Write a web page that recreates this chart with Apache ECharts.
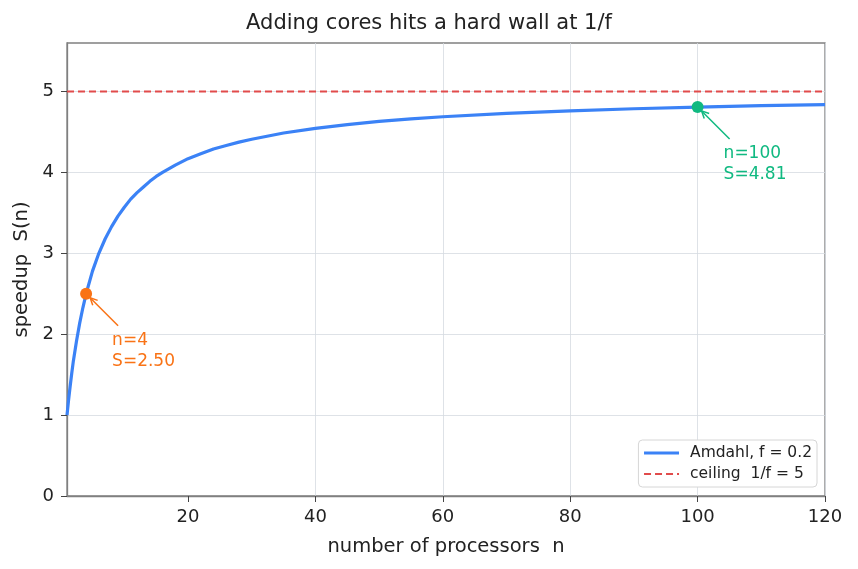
<!DOCTYPE html>
<html>
<head>
<meta charset="utf-8">
<script src="https://cdn.jsdelivr.net/npm/echarts@6/dist/echarts.min.js"></script>
<style>
  html, body { margin: 0; padding: 0; background: #fff; }
  #chart { width: 858px; height: 569px; }
</style>
</head>
<body>
<div id="chart"></div>
<script>
// values
const nValues = [1, 1.25, 1.5, 1.75, 2, 2.5, 3, 3.5, 4, 5, 6, 7, 8, 9, 10, 11, 12, 13, 14, 15, 16, 18, 20, 22, 24, 26, 28, 30, 35, 40, 45, 50, 55, 60, 70, 80, 90, 100, 110, 120];
const speedup = [1.00, 1.19, 1.36, 1.52, 1.67, 1.92, 2.14, 2.33, 2.50, 2.78, 3.00, 3.18, 3.33, 3.46, 3.57, 3.67, 3.75, 3.82, 3.89, 3.95, 4.00, 4.09, 4.17, 4.23, 4.29, 4.333, 4.375, 4.41, 4.487, 4.545, 4.592, 4.63, 4.661, 4.688, 4.73, 4.762, 4.787, 4.808, 4.825, 4.839];
const ceilingN = [1, 120];
const ceilingS = [5, 5];
const markN = [4, 100];
const markS = [2.50, 4.81];
const markColors = ["#f97316", "#10b981"];
const xTicks = [20, 40, 60, 80, 100, 120];

const FONT = "DejaVu Sans";
const BLUE = "#3b82f6";
const RED = "#e14b4b";
const chart = echarts.init(document.getElementById("chart"));

const markSeries = markN.map((n, i) => ({
  type: "scatter",
  data: [[n, markS[i]]],
  symbolSize: 12,
  itemStyle: { color: markColors[i], opacity: 1 },
  z: 5,
  label: {
    show: true,
    position: [32, 42],
    align: "left",
    verticalAlign: "top",
    color: markColors[i],
    fontFamily: FONT,
    fontSize: 17,
    lineHeight: 21,
    formatter: () => "n=" + n + "\nS=" + markS[i].toFixed(2),
  },
}));

const option = {
  animation: false,
  backgroundColor: "#fff",
  title: {
    text: "Adding cores hits a hard wall at 1/f",
    left: "center",
    top: 8,
    textStyle: { fontFamily: FONT, fontSize: 21, fontWeight: "normal", color: "#222" },
  },
  grid: {
    left: 67, right: 33, top: 43, bottom: 73,
    show: true, borderColor: "#808080", borderWidth: 1.3,
  },
  legend: {
    orient: "vertical",
    right: 41,
    bottom: 82,
    itemWidth: 35,
    itemHeight: 14,
    itemGap: 5,
    padding: [5, 5, 5, 4],
    backgroundColor: "#fff",
    borderColor: "#d6d6d6",
    borderWidth: 1,
    borderRadius: 4,
    itemStyle: { opacity: 0 },
    textStyle: { fontFamily: FONT, fontSize: 15.5, color: "#222", padding: [0, 0, 0, 6] },
    data: [
      { name: "Amdahl, f = 0.2", lineStyle: { width: 3.2, color: BLUE } },
      { name: "ceiling  1/f = 5", lineStyle: { width: 2, color: RED, type: [7, 4] } },
    ],
  },
  xAxis: {
    type: "value",
    min: 1,
    max: 120,
    minInterval: 20,
    maxInterval: 20,
    name: "number of processors  n",
    nameLocation: "middle",
    nameGap: 41,
    nameTextStyle: { fontFamily: FONT, fontSize: 19.5, color: "#222" },
    axisLine: { show: true, lineStyle: { color: "#808080", width: 1.3 } },
    axisTick: { show: true, length: 6, customValues: xTicks, lineStyle: { color: "#444" } },
    axisLabel: { customValues: xTicks, margin: 12, fontFamily: FONT, fontSize: 18, color: "#222" },
    splitLine: { show: true, showMinLine: false, lineStyle: { color: "#d5dbe1", width: 0.8 } },
  },
  yAxis: {
    type: "value",
    min: 0,
    max: 5.6,
    interval: 1,
    name: "speedup  S(n)",
    nameLocation: "middle",
    nameGap: 35,
    nameTextStyle: { fontFamily: FONT, fontSize: 19.5, color: "#222" },
    axisLine: { show: true, lineStyle: { color: "#808080", width: 1.3 } },
    axisTick: { show: true, length: 6, lineStyle: { color: "#444" } },
    axisLabel: { showMaxLabel: false, margin: 13, fontFamily: FONT, fontSize: 18, color: "#222" },
    splitLine: { show: true, showMinLine: false, showMaxLine: false, lineStyle: { color: "#d5dbe1", width: 0.8 } },
  },
  series: [
    {
      name: "Amdahl, f = 0.2",
      type: "line",
      data: nValues.map((n, i) => [n, speedup[i]]),
      symbol: "none",
      lineStyle: { color: BLUE, width: 3.2 },
      itemStyle: { color: BLUE },
      z: 3,
    },
    {
      name: "ceiling  1/f = 5",
      type: "line",
      data: ceilingN.map((n, i) => [n, ceilingS[i]]),
      symbol: "none",
      lineStyle: { color: RED, width: 2, type: [7, 4] },
      itemStyle: { color: RED },
      z: 2,
    },
    ...markSeries,
  ],
};

chart.setOption(option);

// arrows from each annotation text to its point
const arrows = markN.map((n, i) => {
  const p = chart.convertToPixel({ gridIndex: 0 }, [n, markS[i]]);
  const sx = p[0] + 32, sy = p[1] + 32;
  const ex = p[0] + 4, ey = p[1] + 4;
  const ang = Math.atan2(sy - ey, sx - ex);
  const head = 8, spread = 0.45;
  return {
    type: "group",
    z: 10,
    children: [
      { type: "line", shape: { x1: sx, y1: sy, x2: ex, y2: ey }, style: { stroke: markColors[i], lineWidth: 1.5 } },
      {
        type: "polyline",
        shape: {
          points: [
            [ex + head * Math.cos(ang + spread), ey + head * Math.sin(ang + spread)],
            [ex, ey],
            [ex + head * Math.cos(ang - spread), ey + head * Math.sin(ang - spread)],
          ],
        },
        style: { stroke: markColors[i], lineWidth: 1.5, fill: null },
      },
    ],
  };
});
chart.setOption({ graphic: arrows });
</script>
</body>
</html>
